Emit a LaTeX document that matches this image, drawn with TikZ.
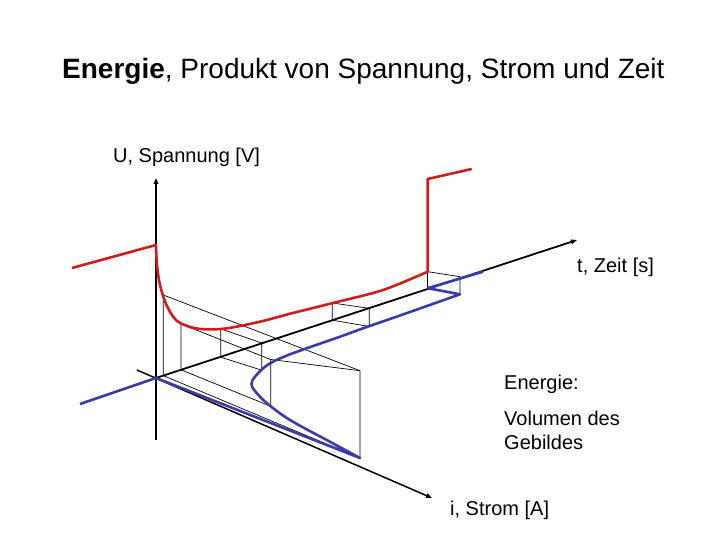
\documentclass[tikz,border=0pt]{standalone}
\usepackage{fontspec}
\setmainfont{Liberation Sans}
\usetikzlibrary{arrows.meta}
\definecolor{cred}{RGB}{210,28,28}
\definecolor{cblue}{RGB}{58,58,168}
\begin{document}
\begin{tikzpicture}[x=1pt,y=-1pt,
  axisline/.style={line width=1.8pt,-{Triangle[length=6pt,width=4.5pt]}},
  wire/.style={line width=0.7pt},
  ucurve/.style={cred,line width=2.6pt,line join=round},
  icurve/.style={cblue,line width=2.6pt,line join=round},
  lbl/.style={font=\fontsize{20}{24}\selectfont,anchor=base west,inner sep=0pt},
  ttl/.style={font=\fontsize{28}{34}\selectfont,anchor=base west,inner sep=0pt}]
\useasboundingbox (0,0) rectangle (720,540);

% axes end points
\coordinate (O) at (156,378);
\coordinate (Ubot) at (156,440);
\coordinate (Utop) at (156,178);
\coordinate (Ttop) at (577,240);
\coordinate (Iback) at (137,370);
\coordinate (Itop) at (432,498);

% wireframe points: R on red curve, A on t-axis, B on blue curve, C top
\coordinate (R1) at (163.3,295);   \coordinate (A1) at (163.3,375.6);
\coordinate (C1) at (360,370.7);   \coordinate (B1) at (360,458);
\coordinate (R2) at (181,324);     \coordinate (A2) at (181,369.8);
\coordinate (C2) at (270.7,359.5); \coordinate (B2) at (270.7,406.3);
\coordinate (R3) at (220.7,328.8); \coordinate (A3) at (220.7,357.2);
\coordinate (C3) at (261.7,343);   \coordinate (B3) at (261.7,370.2);
\coordinate (R4) at (332.3,303);   \coordinate (A4) at (332.3,320.2);
\coordinate (C4) at (369.3,308.3); \coordinate (B4) at (369.3,326.5);
\coordinate (R5) at (427.7,271.7); \coordinate (A5) at (427.7,288.2);
\coordinate (C5) at (460,276.7);   \coordinate (B5) at (460,294.3);

% wireframe
\draw[wire] (R1) -- (A1) -- (B1) -- (C1) -- (R1);
\draw[wire] (R2) -- (A2) -- (B2) -- (C2) -- (R2);
\draw[wire] (C2) -- (C1);
\draw[wire] (R3) -- (A3) -- (B3) -- (C3) -- (R3);
\draw[wire] (R4) -- (A4) -- (B4) -- (C4) -- (R4);
\draw[wire] (R5) -- (A5);
\draw[wire] (R5) -- (C5) -- (B5);

% axes
\draw[axisline] (Ubot) -- (Utop);
\draw[axisline] (O) -- (Ttop);
\draw[axisline,line width=1.5pt] (Iback) -- (Itop);

% voltage curve
\draw[ucurve] (72,268) -- (156,245) -- plot[smooth,tension=0.55] coordinates {(156,245)(157,265)(160,285)(166.5,305)(176.5,320.5)(192,327.5)(207,329.3)(227,328.3)(260,321.7)(293,313)(333,303)(383,290)(427.7,271.7)} -- (427.7,179) -- (471.7,169);

% current curve
\draw[icurve] (80,404) -- (O) -- (B1) -- plot[smooth,tension=0.6] coordinates {(360,458)(326.7,440)(290,420)(266.7,403)(255,391)(251.5,384)(255,376.7)(266.7,365.5)(283.3,357)(306.7,348.3)(340,336.7)(366.7,327)(400,315.5)(460,294.3)} -- (A5) -- (483,271.7);

% texts
\node[ttl] (title) at (62,79) {\textbf{Energie}, Produkt von Spannung, Strom und Zeit};
\node[lbl] (ulabel) at (113,163) {U, Spannung [V]};
\node[lbl] (tlabel) at (577,272) {t, Zeit [s]};
\node[lbl] (elabel) at (504,389) {Energie:};
\node[lbl] (vlabel1) at (504,425) {Volumen des};
\node[lbl] (vlabel2) at (504,449) {Gebildes};
\node[lbl] (ilabel) at (450,515) {i, Strom [A]};
\end{tikzpicture}
\end{document}
